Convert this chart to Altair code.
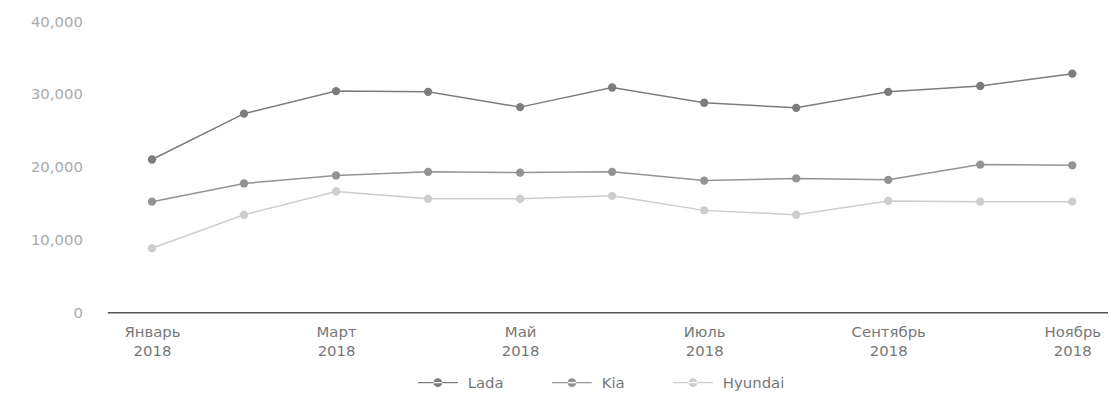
import altair as alt
import pandas as pd

months = ["Январь 2018", "Февраль 2018", "Март 2018", "Апрель 2018", "Май 2018",
          "Июнь 2018", "Июль 2018", "Август 2018", "Сентябрь 2018", "Октябрь 2018",
          "Ноябрь 2018"]
brands = ["Lada", "Kia", "Hyundai"]
lada = [21000, 27300, 30400, 30300, 28200, 30900, 28800, 28100, 30300, 31100, 32800]
kia = [15200, 17700, 18800, 19300, 19200, 19300, 18100, 18400, 18200, 20300, 20200]
hyundai = [8800, 13400, 16600, 15600, 15600, 16000, 14000, 13400, 15300, 15200, 15200]
colors = ["#7c7c7c", "#939393", "#cdcdcd"]
y_ticks = [0, 10000, 20000, 30000, 40000]

rows = []
for b, vals in zip(brands, [lada, kia, hyundai]):
    for m, v in zip(months, vals):
        rows.append({"month": m, "brand": b, "value": v})
df = pd.DataFrame(rows)

symbol = ("M-1,-0.035H1V0.035H-1Z"
          "M-0.22,0A0.22,0.22 0 1,0 0.22,0A0.22,0.22 0 1,0 -0.22,0Z")

chart = alt.Chart(df).mark_line(
    strokeWidth=1.5,
    point=alt.OverlayMarkDef(size=70, filled=True),
).encode(
    x=alt.X("month:N", sort=months,
            scale=alt.Scale(type="point", padding=0.437, align=0.556),
            axis=alt.Axis(title=None, values=months[::2],
                          labelExpr="split(datum.value, ' ')",
                          labelAngle=0, ticks=False, grid=False,
                          domainColor="#555555", domainWidth=1.5,
                          labelColor="#777777", labelFontSize=15,
                          labelPadding=12, labelLineHeight=20)),
    y=alt.Y("value:Q", scale=alt.Scale(domain=[0, 40000], nice=False),
            axis=alt.Axis(title=None, values=y_ticks, format=",.0f",
                          domain=False, ticks=False, grid=False,
                          labelColor="#aaaaaa", labelFontSize=15,
                          labelPadding=25)),
    color=alt.Color("brand:N", sort=brands,
                    scale=alt.Scale(domain=brands, range=colors),
                    legend=alt.Legend(title=None, orient="none",
                                      legendX=313, legendY=344,
                                      direction="horizontal",
                                      symbolType=symbol, symbolSize=1600,
                                      symbolStrokeWidth=0,
                                      columnPadding=48, labelOffset=10,
                                      labelFontSize=15, labelColor="#777777")),
).properties(
    width=1008, height=293,
    padding={"left": 100, "top": 12, "right": 0, "bottom": 80},
    autosize=alt.AutoSizeParams(type="none"),
).configure(font="DejaVu Sans").configure_view(stroke=None)

chart.save("out.html", embed_options={"renderer": "svg", "actions": False})
